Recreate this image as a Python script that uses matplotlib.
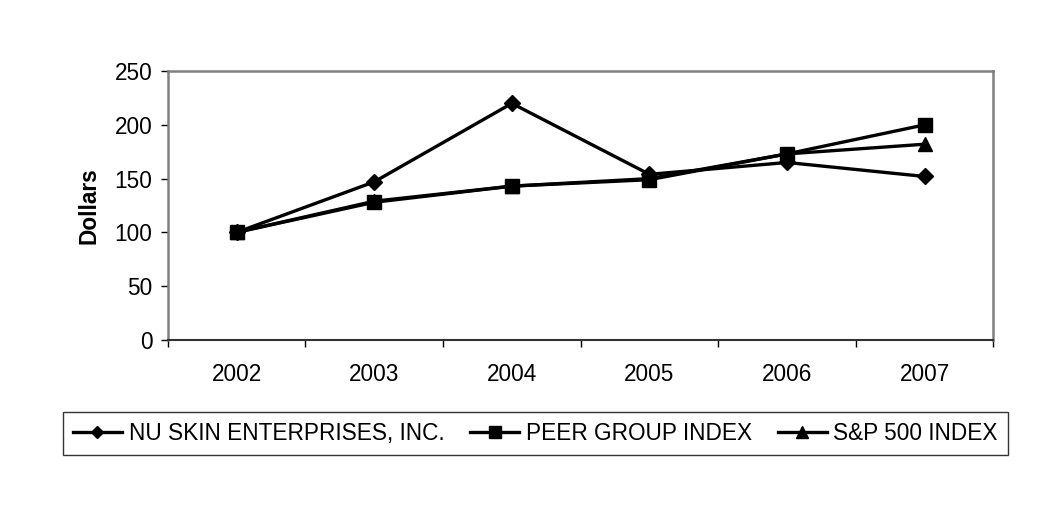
import matplotlib
matplotlib.use("Agg")
import matplotlib.pyplot as plt

plt.rcParams['font.family'] = ['Liberation Sans', 'DejaVu Sans']

# data
years = ['2002', '2003', '2004', '2005', '2006', '2007']
nu_skin = [100, 147, 220, 154, 165, 152]
peer_group = [100, 128, 143, 149, 173, 200]
sp500 = [100, 129, 143, 150, 173, 182]
y_ticks = [0, 50, 100, 150, 200, 250]

fig = plt.figure(figsize=(10.49, 5.08), dpi=100)
ax = fig.add_axes([0.160, 0.331, 0.787, 0.529])

x = list(range(len(years)))
ax.plot(x, nu_skin, color='black', linewidth=2.4, marker='D', markersize=8,
        label='NU SKIN ENTERPRISES, INC.')
ax.plot(x, peer_group, color='black', linewidth=2.4, marker='s', markersize=10,
        label='PEER GROUP INDEX')
ax.plot(x, sp500, color='black', linewidth=2.4, marker='^', markersize=10,
        label='S&P 500 INDEX')

ax.set_xlim(-0.5, len(years) - 0.5)
ax.set_ylim(0, 250)

# category labels at centers, tick marks at the boundaries
ax.set_xticks(x)
ax.set_xticklabels(years, fontsize=16.3)
ax.set_xticks([i - 0.5 for i in range(len(years) + 1)], minor=True)
ax.tick_params(axis='x', which='major', length=0, pad=17)
ax.tick_params(axis='x', which='minor', length=5, width=1, color='black', direction='out')

ax.set_yticks(y_ticks)
ax.set_yticklabels([str(v) for v in y_ticks], fontsize=16.3)
ax.tick_params(axis='y', length=5, width=1, color='black', direction='out', pad=6)

ax.set_ylabel('Dollars', fontsize=16.3, fontweight='bold', labelpad=10)

for side in ['top', 'right', 'left']:
    ax.spines[side].set_color('#808080')
    ax.spines[side].set_linewidth(1.8)
ax.spines['bottom'].set_color('#333333')
ax.spines['bottom'].set_linewidth(1.5)

leg = fig.legend(loc='center', bbox_to_anchor=(0.5105, 0.1467), ncol=3,
                 prop={'size': 16.3}, frameon=True, fancybox=False, edgecolor='black',
                 handlelength=2.15, handletextpad=0.3, columnspacing=1.15,
                 borderpad=0.45, markerscale=0.8)
leg.get_frame().set_linewidth(1.0)

fig.savefig('out.png', dpi=100, facecolor='white')
